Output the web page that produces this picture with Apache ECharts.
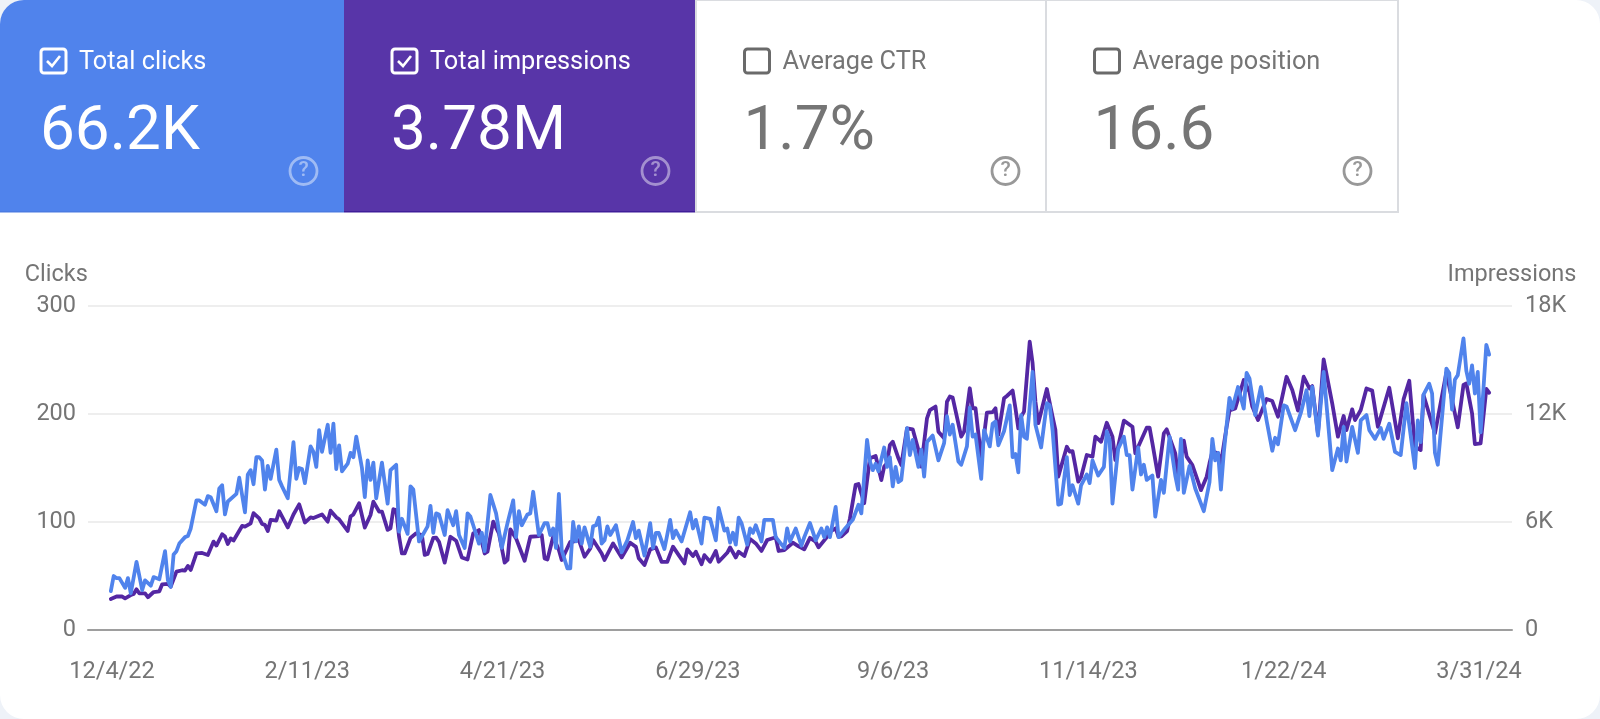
<!DOCTYPE html>
<html>
<head>
<meta charset="utf-8">
<title>Search performance</title>
<script src="https://cdn.jsdelivr.net/npm/echarts@6/dist/echarts.min.js"></script>
<style>
html,body{margin:0;padding:0;background:#eef2f8;width:1600px;height:719px;overflow:hidden}
#chart{width:1600px;height:719px;background:#fff;border-radius:24px;overflow:hidden}
</style>
</head>
<body>
<div id="chart"></div>
<script>
// Day index counts from 12/4/22. [day, value] pairs (turning points of each line).
var clicks = [[0,36],[1,50],[2,48],[3,48],[5,39],[6,48],[7,34],[9,63],[11,37],[12,46],[14,41],[15,49],[17,47],[19,73],[20,46],[21,40],[22,70],[23,73],[24,80],[26,86],[27,87],[28,94],[30,120],[31,120],[33,116],[34,124],[35,123],[37,110],[38,131],[39,134],[40,107],[41,119],[44,126],[45,141],[47,109],[48,144],[49,148],[50,135],[51,160],[52,160],[53,157],[54,130],[55,152],[56,140],[58,167],[59,139],[60,133],[62,122],[64,174],[65,140],[66,150],[67,149],[68,136],[70,170],[71,165],[72,151],[73,185],[74,165],[76,190],[77,164],[78,191],[79,149],[80,171],[81,147],[83,154],[84,164],[85,160],[86,179],[88,150],[89,123],[90,157],[91,139],[92,155],[93,122],[95,155],[97,117],[98,148],[100,153],[101,91],[102,103],[104,89],[105,133],[106,130],[108,82],[111,96],[112,115],[113,90],[114,108],[115,107],[117,88],[118,111],[120,97],[121,110],[122,88],[124,76],[125,108],[126,105],[127,97],[129,80],[130,90],[131,73],[133,125],[135,108],[137,76],[139,99],[141,120],[142,86],[143,110],[144,97],[146,107],[147,108],[148,128],[150,88],[152,99],[153,99],[154,88],[155,94],[156,76],[157,126],[158,74],[160,57],[161,57],[162,100],[163,82],[164,96],[165,80],[166,95],[168,77],[169,96],[170,97],[171,104],[172,80],[173,83],[174,96],[175,88],[177,97],[179,72],[181,83],[183,100],[184,85],[185,92],[187,69],[189,99],[190,76],[191,90],[192,90],[194,75],[196,102],[197,85],[198,92],[200,82],[203,109],[204,94],[205,102],[207,80],[208,104],[210,103],[212,83],[213,113],[215,92],[216,94],[217,81],[218,90],[219,79],[220,104],[221,99],[223,79],[224,94],[225,90],[226,97],[228,82],[229,102],[231,102],[232,102],[233,86],[236,76],[237,94],[238,82],[240,94],[242,78],[243,86],[245,99],[247,83],[249,94],[250,86],[251,95],[252,86],[254,114],[255,86],[257,93],[258,96],[260,102],[262,116],[263,108],[265,176],[266,156],[267,148],[268,154],[269,147],[271,169],[272,151],[273,160],[274,133],[275,151],[276,137],[277,139],[279,187],[280,162],[281,176],[283,151],[284,167],[285,142],[286,174],[288,180],[290,157],[292,173],[293,198],[294,181],[295,190],[297,156],[298,153],[300,170],[301,206],[302,179],[303,181],[305,140],[306,185],[308,170],[309,191],[310,193],[311,171],[313,184],[315,208],[316,160],[317,163],[318,146],[319,199],[320,179],[321,177],[322,207],[323,239],[324,190],[326,169],[328,210],[329,208],[330,185],[332,116],[333,117],[335,160],[336,125],[337,134],[339,117],[340,134],[342,144],[343,136],[344,157],[346,143],[348,151],[349,184],[350,176],[351,117],[353,168],[355,179],[356,162],[357,162],[358,130],[360,169],[361,144],[362,153],[363,139],[365,143],[366,105],[368,139],[369,127],[371,179],[373,143],[374,130],[375,177],[376,127],[378,152],[380,131],[383,110],[385,137],[386,177],[387,157],[388,164],[389,130],[390,164],[392,215],[393,205],[395,225],[397,205],[398,238],[399,233],[401,199],[403,225],[405,194],[407,166],[408,178],[409,172],[411,208],[412,207],[415,185],[417,201],[419,222],[420,198],[421,225],[423,180],[425,239],[428,148],[430,168],[431,157],[432,188],[433,156],[435,188],[437,164],[438,194],[440,199],[441,185],[443,177],[445,187],[446,177],[448,191],[450,165],[452,162],[454,210],[457,150],[458,194],[459,174],[460,218],[462,228],[463,219],[464,164],[465,153],[468,242],[469,238],[470,204],[471,232],[472,236],[474,270],[475,240],[476,228],[477,245],[478,219],[479,239],[480,183],[482,264],[483,255]];
var impressions = [[0,1720],[2,1860],[4,1860],[5,1760],[7,1940],[8,2000],[9,2260],[10,2040],[12,2040],[13,1820],[15,2110],[17,2150],[18,2540],[20,2560],[21,2410],[23,3240],[25,3320],[26,3300],[27,3560],[28,3340],[30,4260],[32,4280],[34,4170],[36,4910],[37,4690],[39,5320],[40,5190],[41,4780],[42,5090],[43,4970],[46,5780],[47,5740],[49,5930],[50,6490],[52,6200],[53,5890],[54,5840],[55,5500],[56,6110],[57,6100],[58,6080],[59,6600],[62,5700],[64,6420],[66,6980],[68,5970],[70,6260],[71,6220],[74,6420],[76,6020],[77,6630],[79,6260],[80,6150],[83,5500],[84,6300],[85,6420],[87,7040],[89,5690],[91,6390],[92,7130],[94,6580],[95,6580],[97,5560],[98,5650],[99,6710],[100,6660],[101,5190],[102,4260],[103,4260],[105,5110],[107,5370],[109,5280],[110,4170],[111,4220],[113,5120],[114,5130],[115,4900],[117,3740],[119,5180],[121,4960],[123,4030],[125,3920],[127,5370],[129,5550],[131,4250],[132,4350],[134,6020],[136,5370],[138,3740],[139,3890],[140,5590],[142,5090],[145,3850],[147,5180],[150,5220],[151,5270],[152,3980],[153,3920],[155,5180],[157,4440],[158,3890],[161,4900],[162,4900],[164,5000],[166,4070],[168,4530],[169,5000],[172,4250],[173,3890],[176,4810],[179,4030],[182,4850],[184,4620],[185,3980],[187,3610],[189,4480],[191,4590],[193,3790],[195,3790],[197,4630],[199,4160],[201,3700],[202,4480],[204,4110],[205,4350],[207,3650],[208,4160],[210,3790],[212,4390],[213,3790],[216,4290],[217,4590],[219,4030],[220,4350],[222,4110],[224,5050],[226,4810],[228,4390],[230,5000],[233,5150],[234,4390],[236,4440],[239,4850],[241,4650],[243,4480],[245,5120],[247,4900],[248,4590],[251,5180],[252,5460],[254,5650],[255,5180],[256,5200],[258,5500],[259,6200],[261,8060],[262,8110],[264,7040],[266,9540],[268,9670],[270,8330],[271,9080],[272,9260],[273,10280],[274,10460],[276,9540],[277,9170],[279,11200],[281,11150],[283,10000],[284,9080],[286,11760],[287,12220],[289,12410],[290,11020],[292,10650],[293,12680],[294,12970],[295,12910],[298,10740],[299,11020],[301,13430],[302,12320],[303,12320],[305,9540],[307,12080],[309,12100],[310,12320],[311,10840],[313,12870],[314,13000],[316,13300],[317,12320],[318,11200],[319,11860],[320,12130],[322,16020],[323,14830],[324,12680],[325,11490],[328,13390],[330,11850],[331,11110],[332,8520],[335,10180],[336,9910],[337,9940],[339,8240],[340,8500],[342,9720],[344,9630],[345,10740],[347,10460],[349,11510],[351,10740],[352,9440],[353,10200],[355,11630],[358,11290],[359,9820],[363,11240],[364,11240],[365,10370],[367,8520],[369,10930],[370,11150],[373,9810],[374,8520],[376,10520],[377,9630],[379,9160],[381,8240],[382,7770],[384,8520],[385,9260],[386,9910],[388,9810],[389,9260],[391,11290],[392,12190],[394,12310],[397,13890],[399,13230],[400,12410],[402,11660],[405,12830],[407,12720],[409,11850],[412,14070],[414,13330],[416,12190],[418,14070],[420,13420],[421,13550],[423,10920],[425,15040],[428,12590],[430,10740],[432,11890],[433,11110],[435,12260],[436,11660],[438,12220],[440,13420],[442,13300],[444,11290],[448,13460],[451,10650],[453,12810],[455,13850],[457,10180],[459,10000],[460,13060],[464,10920],[468,14300],[472,11260],[474,13610],[475,13700],[477,12040],[478,10330],[480,10370],[482,13390],[483,13180]];
var dateLabels = ['12/4/22','2/11/23','4/21/23','6/29/23','9/6/23','11/14/23','1/22/24','3/31/24'];
var cardTitles = ['Total clicks','Total impressions','Average CTR','Average position'];
var cardValues = ['66.2K','3.78M','1.7%','16.6'];
var cardFills = ['#5083ec','#5835a8','#ffffff','#ffffff'];
var cardEdges = ['#4a7be2','#3f1d99','#dadce0','#dadce0'];
var cardLefts = [0,344,696,1046];
var cardRights = [344,696,1046,1398];
var cardChecked = [true,true,false,false];

var FONT = 'Roboto, sans-serif';
var GREY = '#757575';
var graphics = [];
cardTitles.forEach(function (title, i) {
  var on = cardChecked[i], L = cardLefts[i], R = cardRights[i];
  var ink = on ? '#ffffff' : GREY;
  var x0 = L + (i === 0 ? 40 : i === 1 ? 47 : 47.5);
  graphics.push({type:'rect', silent:true, z:1, shape:{x:L,y:0,width:R-L,height:212},
    style:{fill:cardFills[i], stroke:on?null:cardEdges[i], lineWidth:on?0:2}});
  if (on) graphics.push({type:'rect', silent:true, z:1, shape:{x:L,y:211,width:R-L,height:1.5}, style:{fill:cardEdges[i]}});
  graphics.push({type:'rect', silent:true, z:2, shape:{x:x0+1,y:49,width:25,height:24,r:3},
    style:{fill:'none', stroke:on?'#ffffff':'#6a6a6a', lineWidth:3}});
  if (on) graphics.push({type:'polyline', silent:true, z:2, shape:{points:[[x0+7,61],[x0+12,66],[x0+20,56]]},
    style:{fill:'none', stroke:'#ffffff', lineWidth:2.6}});
  graphics.push({type:'text', silent:true, z:3, style:{text:title, x:(on?x0+39:x0+39), y:63, font:'400 25.3px '+FONT, fill:ink, verticalAlign:'middle'}});
  graphics.push({type:'text', silent:true, z:3, style:{text:cardValues[i], x:x0, y:133, font:'400 62px '+FONT, fill:ink, verticalAlign:'middle'}});
  var hx = R - 40.5;
  graphics.push({type:'circle', silent:true, z:2, shape:{cx:hx,cy:171,r:13.5},
    style:{fill:'none', stroke:ink, lineWidth:2.8, opacity:on?0.45:0.75}});
  graphics.push({type:'text', silent:true, z:3, style:{text:'?', x:hx, y:171, font:'500 21px '+FONT, fill:ink, opacity:on?0.45:0.75, align:'center', verticalAlign:'middle'}});
});

var chart = echarts.init(document.getElementById('chart'), null, {renderer:'canvas', width:1600, height:719});
var lbl = {color:GREY, fontFamily:FONT, fontSize:23.5};
chart.setOption({
  animation:false,
  backgroundColor:'transparent',
  graphic:graphics,
  grid:[
    {left:88, right:88, top:306, bottom:89},
    {left:112, right:121, top:306, bottom:89}
  ],
  xAxis:[
    {type:'value', gridIndex:0, min:-8, max:491, splitLine:{show:false}, axisTick:{show:false}, axisLabel:{show:false},
     axisLine:{show:true, onZero:false, lineStyle:{color:'#9e9e9e', width:2}}},
    {type:'category', gridIndex:1, data:dateLabels, boundaryGap:false, axisLine:{show:false}, axisTick:{show:false},
     axisLabel:Object.assign({interval:0, margin:30, hideOverlap:false, showMinLabel:true, showMaxLabel:true}, lbl)}
  ],
  yAxis:[
    {type:'value', gridIndex:0, name:'Clicks', nameLocation:'end', nameGap:19, nameTextStyle:Object.assign({align:'right', padding:[0,23,0,0]}, lbl),
     min:0, max:300, interval:100, axisLine:{show:false}, axisTick:{show:false},
     axisLabel:Object.assign({margin:12, padding:[4,0,0,0]}, lbl), splitLine:{lineStyle:{color:'#eeeeee', width:2}}},
    {type:'value', gridIndex:0, position:'right', name:'Impressions', nameLocation:'end', nameGap:19, nameTextStyle:lbl,
     min:0, max:18000, interval:6000, axisLine:{show:false}, axisTick:{show:false},
     axisLabel:Object.assign({margin:13, padding:[4,0,0,0], formatter:function(v){return v===0?'0':(v/1000)+'K';}}, lbl), splitLine:{show:false}},
    {type:'value', gridIndex:1, show:false, min:0, max:1}
  ],
  series:[
    {name:'Impressions', type:'line', xAxisIndex:0, yAxisIndex:1, data:impressions, showSymbol:false, z:3, silent:true,
     lineStyle:{color:'#5427a3', width:3.8, join:'round', cap:'round'}},
    {name:'Clicks', type:'line', xAxisIndex:0, yAxisIndex:0, data:clicks, showSymbol:false, z:4, silent:true,
     lineStyle:{color:'#5083ec', width:3.8, join:'round', cap:'round'}}
  ]
});
</script>
</body>
</html>
